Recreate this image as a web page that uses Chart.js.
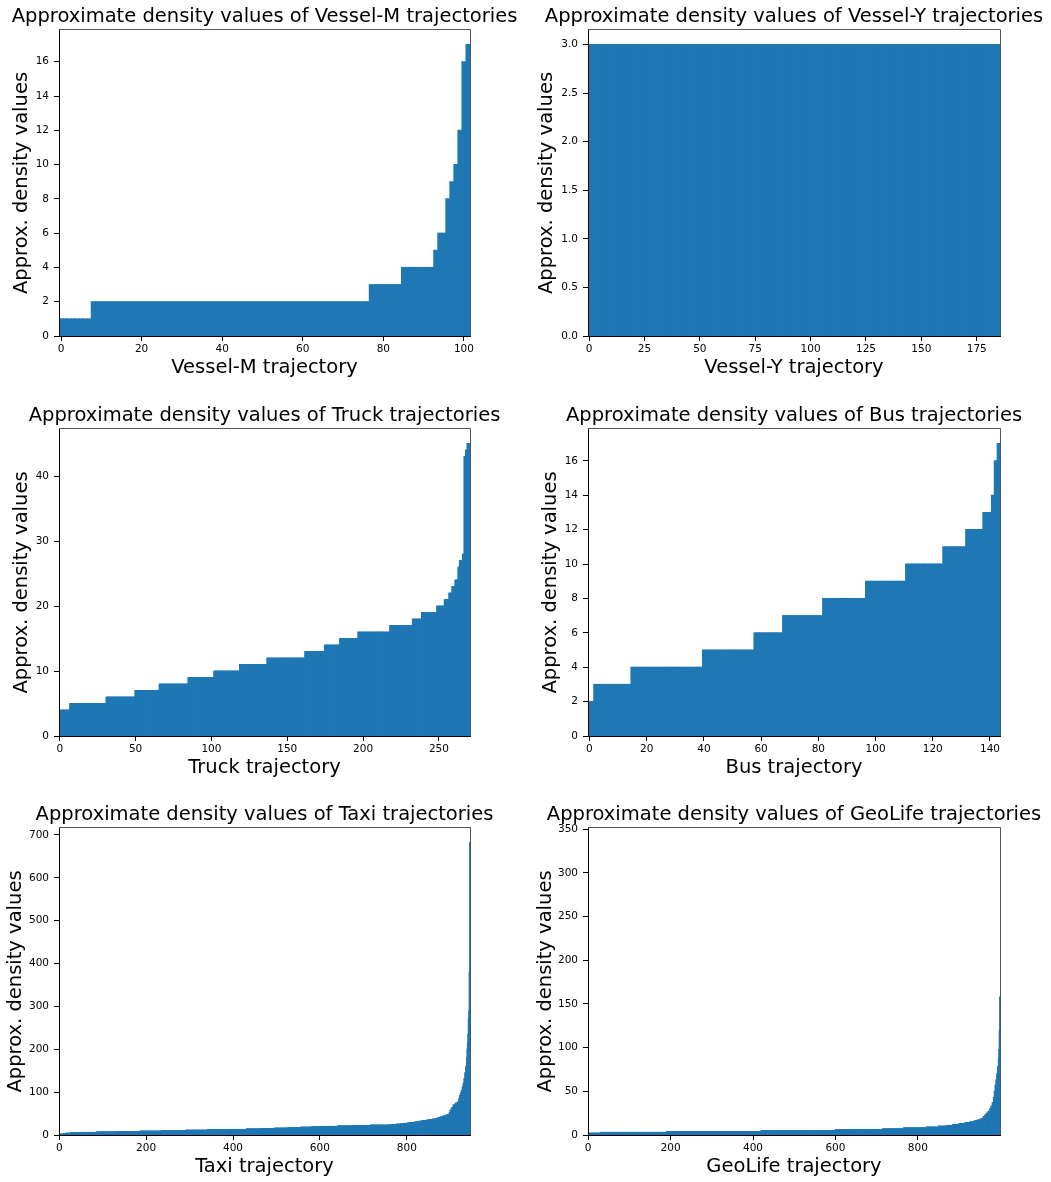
<!DOCTYPE html>
<html>
<head>
<meta charset="utf-8">
<script src="https://cdn.jsdelivr.net/npm/chart.js@4.4.0/dist/chart.umd.min.js"></script>
<style>
html, body { margin: 0; padding: 0; background: #ffffff; overflow: hidden; width: 1051px; height: 1182px; }
canvas { position: absolute; }
</style>
</head>
<body>
<canvas id="c1"></canvas>
<canvas id="c2"></canvas>
<canvas id="c3"></canvas>
<canvas id="c4"></canvas>
<canvas id="c5"></canvas>
<canvas id="c6"></canvas>
<script>
// ---------- DATA (sorted density values, stored as run-length levels/counts) ----------
const vesselMLevels = [1, 2, 3, 4, 5, 6, 8, 9, 10, 12, 16, 17];
const vesselMCounts = [8, 69, 8, 8, 1, 2, 1, 1, 1, 1, 1, 1];
const vesselMXTicks = [0, 20, 40, 60, 80, 100];
const vesselMYTicks = [0, 2, 4, 6, 8, 10, 12, 14, 16];

const vesselYLevels = [3];
const vesselYCounts = [186];
const vesselYXTicks = [0, 25, 50, 75, 100, 125, 150, 175];
const vesselYYTicks = [0, 0.5, 1.0, 1.5, 2.0, 2.5, 3.0];

const truckLevels = [3, 4, 5, 6, 7, 8, 9, 10, 11, 12, 13, 14, 15, 16, 17, 18, 19, 20, 21, 22, 23, 24, 26, 27, 28, 43, 44, 45];
const truckCounts = [1, 6, 24, 19, 16, 19, 17, 17, 18, 25, 13, 10, 12, 21, 15, 6, 10, 5, 3, 2, 2, 2, 1, 2, 1, 1, 1, 2];
const truckXTicks = [0, 50, 100, 150, 200, 250];
const truckYTicks = [0, 10, 20, 30, 40];

const busLevels = [2, 3, 4, 5, 6, 7, 8, 9, 10, 11, 12, 13, 14, 16, 17];
const busCounts = [2, 13, 25, 18, 10, 14, 15, 14, 13, 8, 6, 3, 1, 1, 1];
const busXTicks = [0, 20, 40, 60, 80, 100, 120, 140];
const busYTicks = [0, 2, 4, 6, 8, 10, 12, 14, 16];

const taxiLevels = [1, 2, 3, 4, 5, 6, 7, 8, 9, 10, 11, 12, 13, 14, 15, 16, 17, 18, 19, 20, 21, 22, 23,
  24, 25, 26, 27, 28, 29, 30, 31, 32, 33, 34, 35, 36, 37, 38, 40, 42, 44, 46, 48,
  52, 58, 64, 70, 74, 77, 85, 92, 98, 104, 112, 120, 132, 145, 160,
  180, 200, 215, 235, 270, 290, 380, 682];
const taxiCounts = [2, 6, 8, 12, 23, 35, 50, 50, 50, 55, 50, 50, 40, 35, 30, 30, 30, 25, 25, 35, 35, 40, 45,
  15, 10, 8, 8, 8, 7, 6, 6, 6, 6, 6, 6, 6, 6, 6, 6, 6, 6, 5, 4,
  2, 3, 4, 5, 5, 3, 2, 2, 2, 2, 2, 2, 2, 2, 2,
  1, 1, 1, 1, 1, 1, 1, 1];
const taxiXTicks = [0, 200, 400, 600, 800];
const taxiYTicks = [0, 100, 200, 300, 400, 500, 600, 700];

const geoLevels = [2, 3, 4, 5, 6, 7, 8, 9, 10, 11, 12, 13, 14, 15, 16, 17, 18, 19, 21, 23, 25, 27,
  30, 33, 37, 43, 50, 57, 63, 70, 78, 88, 98, 120, 158];
const geoCounts = [30, 160, 230, 180, 115, 50, 55, 30, 20, 15, 15, 15, 12, 10, 7, 6, 5, 4, 4, 4, 4, 4,
  3, 3, 3, 2, 2, 2, 2, 2, 2, 1, 1, 1, 1];
const geoXTicks = [0, 200, 400, 600, 800];
const geoYTicks = [0, 50, 100, 150, 200, 250, 300, 350];
const geoYMax = 351.5;

// ---------- helpers ----------
function expandRuns(levels, counts) {
  const out = [];
  levels.forEach((v, k) => { for (let j = 0; j < counts[k]; j++) out.push(v); });
  return out;
}

Chart.defaults.font.family = "'DejaVu Sans', sans-serif";
Chart.defaults.color = '#000';

const BAR_COLOR = '#1f77b4';
const TITLE_SIZE = 19.5;
const LABEL_SIZE = 19.5;
const TICK_SIZE = 10.5;
const LH = 1.2;

// layout (page pixels)
const cols = [
  { L: 59, R: 470 },
  { L: 588, R: 1000 }
];
const rows = [
  { T: 30,  B: 336,  cy: 0,   ch: 390, titleCY: 17,  xLabelCY: 368 },
  { T: 429, B: 736,  cy: 395, ch: 395, titleCY: 416, xLabelCY: 768 },
  { T: 828, B: 1135, cy: 795, ch: 387, titleCY: 815, xLabelCY: 1167 }
];

const panels = [
  { id: 'c1', name: 'Vessel-M', levels: vesselMLevels, counts: vesselMCounts, xTicks: vesselMXTicks, yTicks: vesselMYTicks, dec: 0, col: 0, row: 0, yLabelCX: 22 },
  { id: 'c2', name: 'Vessel-Y', levels: vesselYLevels, counts: vesselYCounts, xTicks: vesselYXTicks, yTicks: vesselYYTicks, dec: 1, col: 1, row: 0, yLabelCX: 547 },
  { id: 'c3', name: 'Truck', levels: truckLevels, counts: truckCounts, xTicks: truckXTicks, yTicks: truckYTicks, dec: 0, col: 0, row: 1, yLabelCX: 22 },
  { id: 'c4', name: 'Bus', levels: busLevels, counts: busCounts, xTicks: busXTicks, yTicks: busYTicks, dec: 0, col: 1, row: 1, yLabelCX: 551 },
  { id: 'c5', name: 'Taxi', levels: taxiLevels, counts: taxiCounts, xTicks: taxiXTicks, yTicks: taxiYTicks, dec: 0, col: 0, row: 2, yLabelCX: 15.5 },
  { id: 'c6', name: 'GeoLife', levels: geoLevels, counts: geoCounts, xTicks: geoXTicks, yTicks: geoYTicks, dec: 0, col: 1, row: 2, yLabelCX: 545.5, yMax: geoYMax }
];

const framePlugin = {
  id: 'frame',
  afterDraw(chart) {
    const { ctx, chartArea: { left, top, right, bottom } } = chart;
    ctx.save();
    ctx.strokeStyle = '#555';
    ctx.lineWidth = 1;
    ctx.beginPath();
    ctx.moveTo(Math.round(left), Math.round(top) - 0.5);
    ctx.lineTo(Math.round(right) + 0.5, Math.round(top) - 0.5);
    ctx.lineTo(Math.round(right) + 0.5, Math.round(bottom));
    ctx.stroke();
    ctx.restore();
  }
};

panels.forEach(p => {
  const c = cols[p.col], r = rows[p.row];
  const center = (c.L + c.R) / 2;
  const cx = p.col === 0 ? 0 : 528;
  const cw = Math.round(2 * (center - cx));
  const canvas = document.getElementById(p.id);
  canvas.width = cw; canvas.height = r.ch;
  canvas.style.left = cx + 'px'; canvas.style.top = r.cy + 'px';
  canvas.style.width = cw + 'px'; canvas.style.height = r.ch + 'px';

  const values = expandRuns(p.levels, p.counts);
  const n = values.length;
  const yMax = p.yMax !== undefined ? p.yMax : 1.05 * Math.max(...values);

  const titleLH = TITLE_SIZE * LH, labelLH = LABEL_SIZE * LH;
  const titlePadTop = r.titleCY - r.cy - titleLH / 2;
  const titlePadBottom = (r.T - r.cy) - titlePadTop - titleLH;
  const yAxisW = c.L - cx;
  const rightW = cx + cw - c.R;
  const xAxisH = r.cy + r.ch - r.B;
  const xLabelPadBottom = (r.cy + r.ch) - r.xLabelCY - labelLH / 2;
  const yLabelPadTop = p.yLabelCX - cx - labelLH / 2;

  new Chart(canvas.getContext('2d'), {
    type: 'bar',
    data: {
      datasets: [{
        data: values.map((v, i) => ({ x: i, y: v })),
        backgroundColor: BAR_COLOR,
        borderWidth: 0,
        barPercentage: 1,
        categoryPercentage: 1,
        inflateAmount: 0.5,
        clip: 0
      }]
    },
    options: {
      responsive: false,
      maintainAspectRatio: false,
      animation: false,
      devicePixelRatio: 1,
      layout: { padding: 0 },
      plugins: {
        legend: { display: false },
        tooltip: { enabled: false },
        title: {
          display: true,
          text: 'Approximate density values of ' + p.name + ' trajectories',
          color: '#000',
          font: { size: TITLE_SIZE, weight: 'normal', lineHeight: LH },
          padding: { top: titlePadTop, bottom: titlePadBottom }
        }
      },
      scales: {
        x: {
          type: 'linear',
          position: 'bottom',
          min: -0.5,
          max: n - 0.5,
          offset: false,
          grid: { display: true, drawOnChartArea: false, drawTicks: true, tickLength: 5, color: '#000', tickColor: '#000', lineWidth: 1, offset: false },
          border: { display: true, color: '#000', width: 1, z: 1 },
          ticks: { autoSkip: false, maxRotation: 0, padding: 2, color: '#000', font: { size: TICK_SIZE }, callback: v => String(v) },
          title: { display: true, text: p.name + ' trajectory', color: '#000', font: { size: LABEL_SIZE, lineHeight: LH }, padding: { top: 0, bottom: xLabelPadBottom } },
          afterBuildTicks: s => { s.ticks = p.xTicks.map(v => ({ value: v })); },
          afterFit: s => { s.height = xAxisH; }
        },
        y: {
          type: 'linear',
          position: 'left',
          min: 0,
          max: yMax,
          grid: { display: true, drawOnChartArea: false, drawTicks: true, tickLength: 5, color: '#000', tickColor: '#000', lineWidth: 1 },
          border: { display: true, color: '#000', width: 1, z: 1 },
          ticks: { autoSkip: false, padding: 5, color: '#000', font: { size: TICK_SIZE }, callback: v => Number(v).toFixed(p.dec) },
          title: { display: true, text: 'Approx. density values', color: '#000', font: { size: LABEL_SIZE, lineHeight: LH }, padding: { top: yLabelPadTop, bottom: 0 } },
          afterBuildTicks: s => { s.ticks = p.yTicks.map(v => ({ value: v })); },
          afterFit: s => { s.width = yAxisW; }
        },
        yR: {
          type: 'linear',
          axis: 'y',
          position: 'right',
          min: 0,
          max: 1,
          grid: { display: false },
          border: { display: false },
          ticks: { display: false },
          title: { display: false },
          afterFit: s => { s.width = rightW; }
        }
      }
    },
    plugins: [framePlugin]
  });
});
</script>
</body>
</html>
